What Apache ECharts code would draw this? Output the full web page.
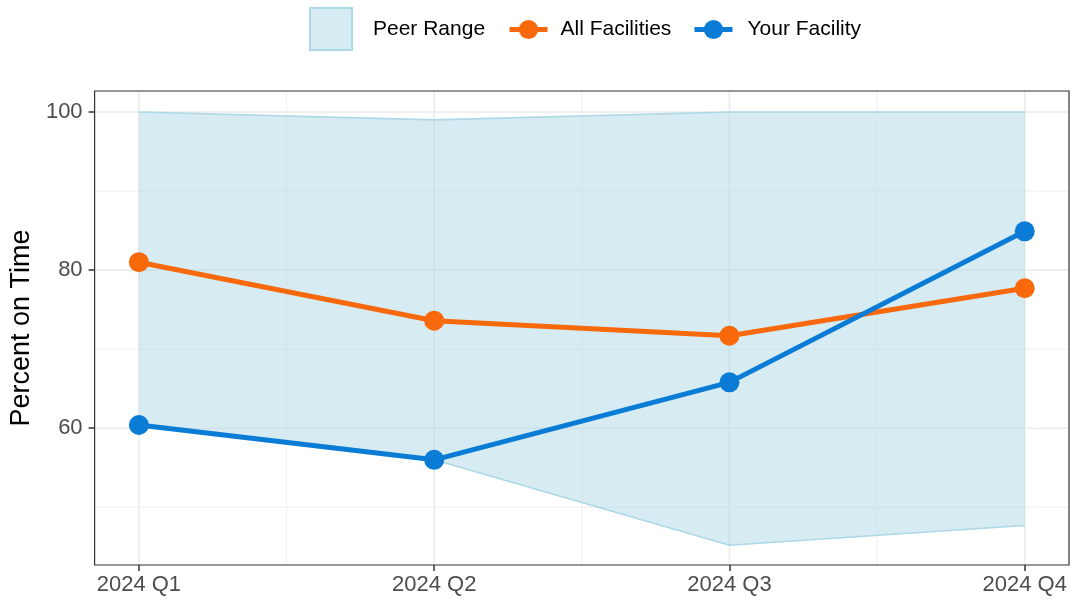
<!DOCTYPE html>
<html>
<head>
<meta charset="utf-8">
<script src="https://cdn.jsdelivr.net/npm/echarts@6/dist/echarts.min.js"></script>
<style>
html,body{margin:0;padding:0;background:#fff;}
#chart{width:1071px;height:601px;}
</style>
</head>
<body>
<div id="chart"></div>
<script>
const quarters = ['2024 Q1', '2024 Q2', '2024 Q3', '2024 Q4'];
const yourFacility = [60.4, 56.0, 65.8, 84.9];
const allFacilities = [81.0, 73.6, 71.7, 77.7];
const peerLow = [60.4, 56.0, 45.2, 47.7];
const peerHigh = [100, 99.0, 100, 100];
const yTicks = [60, 80, 100];
const yMinorTicks = [50, 70, 90];

const xIdx = quarters.map((q, i) => i);
const xMinor = [0.5, 1.5, 2.5];
const FONT = '"Liberation Sans", Arial, sans-serif';
const ORANGE = '#F8690B';
const BLUE = '#0A7CD5';
const PEER_LINE = '#ADD8E6';
const PEER_FILL = 'rgba(173,216,230,0.5)';
const GRID_COLOR = '#EBEBEB';

const pairs = arr => arr.map((v, i) => [xIdx[i], v]);
const peerData = xIdx.map(i => [i, peerLow[i], peerHigh[i]]);

const chart = echarts.init(document.getElementById('chart'), null, {renderer: 'canvas'});
chart.setOption({
  animation: false,
  backgroundColor: '#ffffff',
  textStyle: {fontFamily: FONT},
  grid: {left: 94, right: 2, top: 91, bottom: 36, show: true, borderColor: '#333333', borderWidth: 1.2, backgroundColor: 'transparent', z: 5},
  legend: [
    {
      left: 304, top: 2, itemWidth: 42, itemHeight: 42,
      data: [{name: 'Peer Range', icon: 'rect', itemStyle: {color: PEER_FILL, borderColor: PEER_LINE, borderWidth: 2}}],
      textStyle: {fontSize: 21, color: '#000', fontFamily: FONT, padding: [0, 0, 0, 16]}
    },
    {
      left: 502, top: 14, itemWidth: 38, itemHeight: 24,
      data: ['All Facilities'],
      lineStyle: {width: 5},
      textStyle: {fontSize: 21, color: '#000', fontFamily: FONT, padding: [0, 0, 0, 8]}
    },
    {
      left: 687, top: 14, itemWidth: 38, itemHeight: 24,
      data: ['Your Facility'],
      lineStyle: {width: 5},
      textStyle: {fontSize: 21, color: '#000', fontFamily: FONT, padding: [0, 0, 0, 10]}
    }
  ],
  xAxis: {
    type: 'value', min: -0.15, max: 3.15,
    axisLine: {show: false, onZero: false},
    splitLine: {show: false},
    axisTick: {show: true, customValues: xIdx, length: 6, lineStyle: {color: '#333333', width: 1.5}},
    axisLabel: {customValues: xIdx, formatter: v => quarters[Math.round(v)], fontSize: 22, color: '#4D4D4D', margin: 9, fontFamily: FONT}
  },
  yAxis: {
    type: 'value', min: 42.7, max: 102.65,
    name: 'Percent on Time', nameLocation: 'middle', nameRotate: 90, nameGap: 58,
    nameTextStyle: {fontSize: 27, color: '#000', fontFamily: FONT},
    axisLine: {show: false, onZero: false},
    splitLine: {show: false},
    axisTick: {show: true, customValues: yTicks, length: 6, lineStyle: {color: '#333333', width: 1.5}},
    axisLabel: {customValues: yTicks, fontSize: 22, color: '#4D4D4D', margin: 12, fontFamily: FONT}
  },
  series: [
    {
      name: '_grid', type: 'custom', z: 0, silent: true,
      data: [[0, 60]],
      renderItem: function (params, api) {
        const cs = params.coordSys;
        const x0 = cs.x, x1 = cs.x + cs.width, y0 = cs.y, y1 = cs.y + cs.height;
        const children = [];
        const h = (v, w) => { const y = api.coord([0, v])[1]; children.push({type: 'line', shape: {x1: x0, y1: y, x2: x1, y2: y}, style: {stroke: GRID_COLOR, lineWidth: w}}); };
        const vv = (v, w) => { const x = api.coord([v, 60])[0]; children.push({type: 'line', shape: {x1: x, y1: y0, x2: x, y2: y1}, style: {stroke: GRID_COLOR, lineWidth: w}}); };
        yMinorTicks.forEach(v => h(v, 0.8));
        xMinor.forEach(v => vv(v, 0.8));
        yTicks.forEach(v => h(v, 1.6));
        xIdx.forEach(v => vv(v, 1.6));
        return {type: 'group', children: children};
      }
    },
    {
      name: 'Peer Range', type: 'custom', z: 1, silent: true,
      itemStyle: {color: PEER_FILL},
      data: peerData,
      encode: {x: 0, y: [1, 2]},
      renderItem: function (params, api) {
        if (params.dataIndex !== 0) return null;
        const top = peerData.map(d => api.coord([d[0], d[2]]));
        const bot = peerData.map(d => api.coord([d[0], d[1]]));
        const poly = top.concat(bot.slice().reverse());
        return {
          type: 'group',
          children: [
            {type: 'polygon', shape: {points: poly}, style: {fill: PEER_FILL, stroke: null}},
            {type: 'polyline', shape: {points: top}, style: {fill: null, stroke: PEER_LINE, lineWidth: 1.6}},
            {type: 'polyline', shape: {points: bot}, style: {fill: null, stroke: PEER_LINE, lineWidth: 1.6}}
          ]
        };
      }
    },
    {
      name: 'All Facilities', type: 'line', z: 3,
      data: pairs(allFacilities), symbol: 'circle', symbolSize: 20,
      itemStyle: {color: ORANGE},
      lineStyle: {color: ORANGE, width: 5}
    },
    {
      name: 'Your Facility', type: 'line', z: 4,
      data: pairs(yourFacility), symbol: 'circle', symbolSize: 20,
      itemStyle: {color: BLUE},
      lineStyle: {color: BLUE, width: 5}
    }
  ]
});
</script>
</body>
</html>
